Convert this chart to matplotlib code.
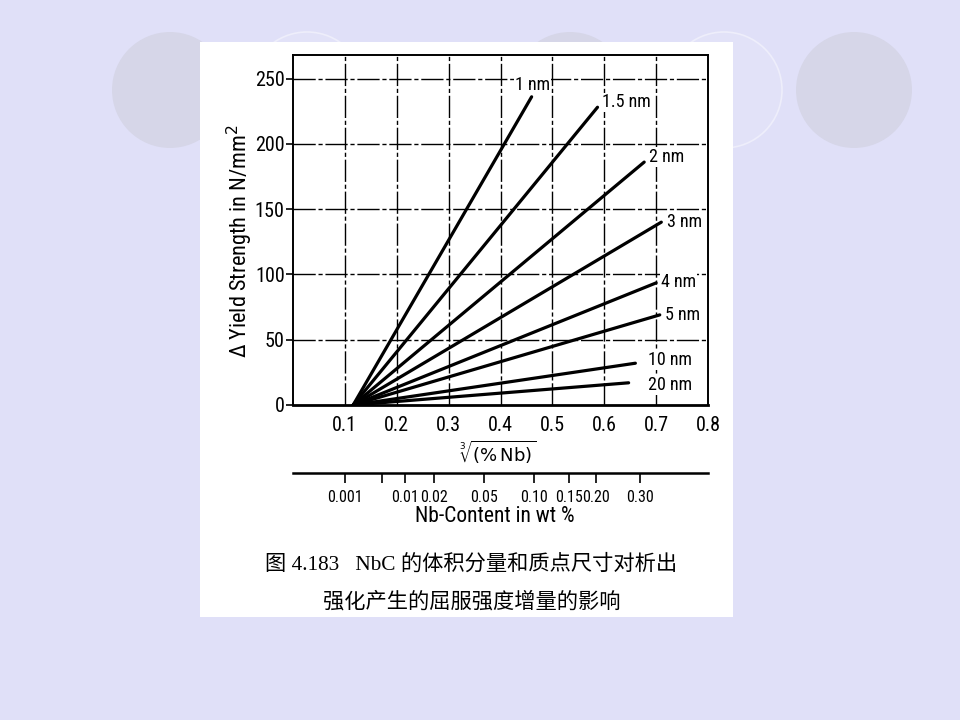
import numpy as np
import matplotlib
matplotlib.use("Agg")
import matplotlib.pyplot as plt
from matplotlib.patches import Circle, Rectangle

# particle sizes and the end points of each line (all start near x = 0.116, y = 0)
sizes = ["1 nm", "1.5 nm", "2 nm", "3 nm", "4 nm", "5 nm", "10 nm", "20 nm"]
x_start = 0.116
x_end = [0.460, 0.587, 0.677, 0.710, 0.700, 0.707, 0.660, 0.647]
y_end = [236, 228, 186, 140, 93.5, 69, 32, 17]

x_ticks = [0.1, 0.2, 0.3, 0.4, 0.5, 0.6, 0.7, 0.8]
y_ticks = [0, 50, 100, 150, 200, 250]
nb_ticks = [0.001, 0.005, 0.01, 0.02, 0.05, 0.10, 0.15, 0.20, 0.30]
nb_labels = ["0.001", "", "0.01", "0.02", "0.05", "0.10", "0.15", "0.20", "0.30"]

# label offsets from line ends (pixels) and alignment
label_off = [(1, 12), (4, 5), (5, 5), (6, 0), (5, 1), (5, 0), (13, 3), (19, -2)]
label_ha = ["center", "left", "left", "left", "left", "left", "left", "left"]

font = ["Roboto Condensed", "Liberation Sans", "DejaVu Sans"]
plt.rcParams["font.family"] = font

W, H = 960, 720
fig = plt.figure(figsize=(9.6, 7.2), dpi=100)
fig.patch.set_facecolor("#e0e0f8")

# slide background with circles
bg = fig.add_axes([0, 0, 1, 1])
bg.set_xlim(0, W)
bg.set_ylim(H, 0)
bg.axis("off")
bg.set_zorder(-1)
for cx in [170, 570, 854]:
    bg.add_patch(Circle((cx, 90), 58, fc="#d6d6e8", ec="none"))
for cx in [307, 724]:
    bg.add_patch(Circle((cx, 90), 58, fc="#e2e2f8", ec="#eeeefb", lw=1.2))
bg.add_patch(Rectangle((200, 42), 533, 575, fc="white", ec="none"))

def fx(px):
    return px / W

def fy(py):
    return 1 - py / H

ax = fig.add_axes([fx(293), fy(405), fx(708) - fx(293), fy(55) - fy(405)])
ax.set_facecolor("white")
ax.set_xlim(0, 0.8)
ax.set_ylim(0, 268)

grid_ls = (0, (16, 2, 3, 2))
for xv in x_ticks[:-1]:
    ax.axvline(xv, color="black", lw=1.0, ls=grid_ls, zorder=1)
for yv in y_ticks[1:]:
    ax.axhline(yv, color="black", lw=1.0, ls=grid_ls, zorder=1)

for i, s in enumerate(sizes):
    ax.plot([x_start, x_end[i]], [0, y_end[i]], color="black", lw=2.3,
            solid_capstyle="round", zorder=3)
    ax.annotate(s, (x_end[i], y_end[i]), xytext=label_off[i],
                textcoords="offset pixels", ha=label_ha[i], va="center",
                fontsize=13, zorder=2,
                bbox=dict(fc="white", ec="none", pad=0.5))

for sp in ax.spines.values():
    sp.set_linewidth(1.4)
ax.spines["bottom"].set_linewidth(2.0)

ax.set_xticks(x_ticks)
ax.set_xticklabels([f"{v:.1f}" for v in x_ticks])
ax.set_yticks(y_ticks)
ax.tick_params(axis="x", length=0, pad=8, labelsize=14.5)
ax.tick_params(axis="y", length=5, width=1.2, pad=1, labelsize=14.5)

# Nb content axis: x is the cube root of the wt% value
sec = ax.secondary_xaxis(-0.194, functions=(lambda v: v ** 3, np.cbrt))
sec.set_xticks(nb_ticks)
sec.set_xticklabels(nb_labels)
sec.tick_params(length=7, width=1.2, pad=5, labelsize=11.5)
sec.spines["bottom"].set_linewidth(1.8)

fig.text(fx(240), fy(241), "Δ Yield Strength in N/mm$^2$", rotation=90,
         ha="center", va="center", fontsize=16)
fig.text(fx(498), fy(452), r"$\sqrt[3]{(\%\,\mathrm{Nb})}$",
         ha="center", va="center", fontsize=13)
fig.text(fx(495), fy(517), "Nb-Content in wt %", ha="center", va="center",
         fontsize=15.5)

cap_font = ["Liberation Serif", "Noto Sans CJK SC"]
fig.text(fx(471), fy(565), "图 4.183   NbC 的体积分量和质点尺寸对析出",
         ha="center", va="center", fontsize=15.3, family=cap_font)
fig.text(fx(472), fy(602), "强化产生的屈服强度增量的影响",
         ha="center", va="center", fontsize=15.3, family=cap_font)

fig.savefig("out.png", dpi=100, facecolor=fig.get_facecolor())
